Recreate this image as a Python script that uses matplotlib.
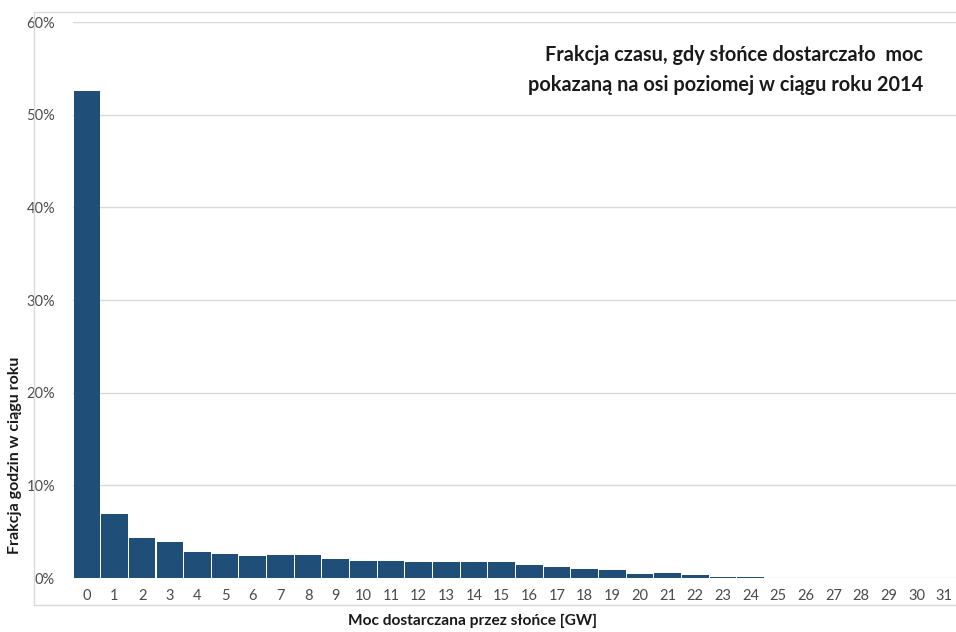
import matplotlib.pyplot as plt
from matplotlib.patches import Rectangle

plt.rcParams["font.family"] = ["Lato", "DejaVu Sans"]

power_gw = list(range(32))
share_pct = [52.6, 6.9, 4.35, 3.9, 2.77, 2.62, 2.41, 2.48, 2.48, 2.05,
             1.83, 1.83, 1.76, 1.76, 1.76, 1.68, 1.37, 1.15, 1.0, 0.83,
             0.4, 0.54, 0.29, 0.14, 0.06, 0, 0, 0, 0, 0, 0, 0]
y_ticks = [0, 10, 20, 30, 40, 50, 60]

W, H = 956, 632
fig = plt.figure(figsize=(W / 100, H / 100), dpi=100)

# chart frame like the Excel chart area
fig.patches.append(Rectangle((34 / W, 1 - 605 / H), (962 - 34) / W, (605 - 12) / H,
                             transform=fig.transFigure, fill=False,
                             edgecolor="#D9D9D9", linewidth=1.0))

ax = fig.add_axes([73 / W, 1 - 578 / H, (958 - 73) / W, (578 - 22) / H])

ax.bar(power_gw, share_pct, width=0.96, color="#1F4E79", zorder=3)

ax.set_xlim(-0.5, 31.5)
ax.set_ylim(0, 60)
ax.set_yticks(y_ticks)
ax.set_yticklabels([f"{v}%" for v in y_ticks])
ax.set_xticks(power_gw)
ax.grid(axis="y", color="#D9D9D9", linewidth=1.0, zorder=0)
for s in ax.spines.values():
    s.set_visible(False)
ax.tick_params(axis="both", length=0, colors="#4a4a4a")
ax.tick_params(axis="y", labelsize=10.5, pad=13)
ax.tick_params(axis="x", labelsize=10.5, pad=8)

fig.text(923 / W, 1 - 55 / H, "Frakcja czasu, gdy słońce dostarczało  moc",
         ha="right", va="center", fontsize=14.3, fontweight="bold", color="#1a1a1a")
fig.text(923 / W, 1 - 85 / H, "pokazaną na osi poziomej w ciągu roku 2014",
         ha="right", va="center", fontsize=14.3, fontweight="bold", color="#1a1a1a")

fig.text(473 / W, 1 - 621 / H, "Moc dostarczana przez słońce [GW]",
         ha="center", va="center", fontsize=11.2, fontweight="bold", color="#1a1a1a")
fig.text(15 / W, 1 - 455 / H, "Frakcja godzin w ciągu roku", rotation=90,
         ha="center", va="center", fontsize=11.5, fontweight="bold", color="#1a1a1a")

fig.savefig("out.png", dpi=100)
